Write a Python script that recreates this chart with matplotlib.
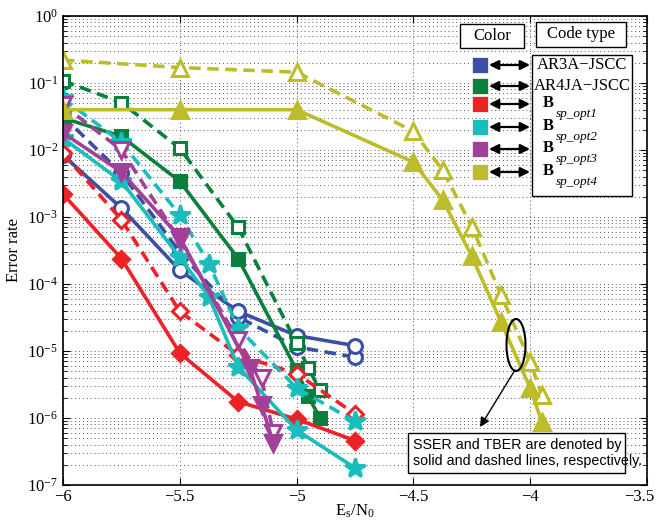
import numpy as np
import matplotlib
matplotlib.use('Agg')
import matplotlib.pyplot as plt
import matplotlib.transforms as mtransforms
from matplotlib.patches import Ellipse, Rectangle

plt.rcParams['font.family'] = ['Liberation Serif', 'DejaVu Serif']
plt.rcParams['mathtext.fontset'] = 'stix'

# ---- data ----
blue_x = [-6, -5.75, -5.5, -5.25, -5, -4.75]
blue_sser = [8.4e-3, 1.36e-3, 1.6e-4, 3.9e-5, 1.7e-5, 1.2e-5]
blue_tber = [3.2e-2, 4.5e-3, 3.0e-4, 3.2e-5, 1.15e-5, 8.1e-6]

green_x = [-6, -5.75, -5.5, -5.25, -5, -4.95, -4.9]
green_sser = [3.0e-2, 1.6e-2, 3.4e-3, 2.4e-4, 5.2e-6, 2.1e-6, 1.0e-6]
green_tber = [1.08e-1, 5.1e-2, 1.06e-2, 7.0e-4, 1.3e-5, 5.6e-6, 2.6e-6]

red_x = [-6, -5.75, -5.5, -5.25, -5, -4.75]
red_sser = [2.2e-3, 2.4e-4, 9.3e-6, 1.75e-6, 9.6e-7, 4.6e-7]
red_tber = [8.9e-3, 9.1e-4, 3.9e-5, 8.7e-6, 4.6e-6, 1.15e-6]

cyan_x = [-6, -5.75, -5.5, -5.375, -5.25, -5, -4.75]
cyan_sser = [1.5e-2, 3.4e-3, 2.5e-4, 6.4e-5, 5.8e-6, 6.6e-7, 1.8e-7]
cyan_tber = [5.9e-2, 1.3e-2, 1.07e-3, 2.0e-4, 2.2e-5, 2.8e-6, 8.9e-7]

purple_x_s = [-6, -5.75, -5.5, -5.2, -5.15, -5.1]
purple_sser = [1.8e-2, 4.7e-3, 5.0e-4, 5.5e-6, 1.55e-6, 4.3e-7]
purple_x_t = [-6, -5.75, -5.5, -5.25, -5.15, -5.1]
purple_tber = [4.7e-2, 1.0e-2, 4.5e-4, 1.45e-5, 3.9e-6, 6.0e-7]

yellow_x = [-6, -5.5, -5, -4.5, -4.375, -4.25, -4.125, -4.0, -3.95]
yellow_sser = [4.0e-2, 4.0e-2, 4.0e-2, 6.6e-3, 1.8e-3, 2.6e-4, 2.7e-5, 2.8e-6, 8.7e-7]
yellow_tber = [2.2e-1, 1.7e-1, 1.45e-1, 1.9e-2, 5.0e-3, 7.2e-4, 6.9e-5, 6.9e-6, 2.2e-6]

code_names = ['AR3A\u2212JSCC', 'AR4JA\u2212JSCC', 'sp_opt1', 'sp_opt2', 'sp_opt3', 'sp_opt4']
colors = ['#3b4fa3', '#0b7f3e', '#ec2227', '#19bdbb', '#a2409a', '#bdbd2c']
y_decades = np.arange(-7, 1)

fig = plt.figure(figsize=(6.58, 5.29), dpi=100)
ax = fig.add_axes([63/658, 1-485/529, 584/658, 469/529])

lw = 2.6
def series(x, y, c, m, ms, dashed, filled):
    ls = (0, (3.2, 1.8)) if dashed else '-'
    mfc = c if filled else 'white'
    ax.plot(x, y, linestyle=ls, color=c, lw=lw, marker=m, ms=ms,
            mfc=mfc, mec=c, mew=2.2)

series(blue_x, blue_tber, colors[0], 'o', 10, True, False)
series(blue_x, blue_sser, colors[0], 'o', 10, False, False)
series(green_x, green_tber, colors[1], 's', 9, True, False)
series(green_x, green_sser, colors[1], 's', 9, False, True)
series(red_x, red_tber, colors[2], 'D', 8, True, False)
series(red_x, red_sser, colors[2], 'D', 8, False, True)
series(cyan_x, cyan_tber, colors[3], '*', 15, True, True)
series(cyan_x, cyan_sser, colors[3], '*', 15, False, True)
series(purple_x_t, purple_tber, colors[4], 'v', 11, True, False)
series(purple_x_s, purple_sser, colors[4], 'v', 11, False, True)
series(yellow_x, yellow_tber, colors[5], '^', 11, True, False)
series(yellow_x, yellow_sser, colors[5], '^', 11, False, True)

ax.set_yscale('log')
ax.set_xlim(-6, -3.5)
ax.set_ylim(1e-7, 1)
ax.set_yticks(10.0 ** y_decades)
minor = [k * 10.0 ** d for d in y_decades[:-1] for k in range(2, 10)]
ax.set_yticks(minor, minor=True)
ax.set_yticklabels([], minor=True)
ax.set_xticks([-6, -5.5, -5, -4.5, -4, -3.5])
ax.set_xticklabels(['\u22126', '\u22125.5', '\u22125', '\u22124.5', '\u22124', '\u22123.5'])
ax.tick_params(which='both', direction='in', top=True, right=True, labelsize=12)
ax.tick_params(axis='x', pad=3)
ax.tick_params(which='major', length=5)
ax.tick_params(which='minor', length=3)
ax.grid(True, which='major', linestyle=(0, (1, 3)), color='#555555', lw=0.7)
ax.grid(True, which='minor', axis='y', linestyle=(0, (1, 3)), color='#555555', lw=0.7)
for s in ax.spines.values():
    s.set_linewidth(1.2)

# keep the last x tick label inside the figure, as in the reference
last = ax.get_xticklabels()[-1]
last.set_transform(last.get_transform() +
                   mtransforms.ScaledTranslation(-8/100, 0, fig.dpi_scale_trans))

ax.set_xlabel(r'E$_\mathregular{s}$/N$_\mathregular{0}$', fontsize=12, labelpad=-2)
ax.set_ylabel('Error rate', fontsize=12, labelpad=4)

# ---- custom legend ----
T = ax.transAxes
def px(xp, yp):
    return ((xp - 63) / 584, (485 - yp) / 469)

x0, y0 = px(460, 48)
x1, y1 = px(524, 24)
ax.add_patch(Rectangle((x0, y0), x1 - x0, y1 - y0, transform=T, fill=True,
                       fc='white', ec='black', lw=1, zorder=5))
ax.text((x0 + x1) / 2, (y0 + y1) / 2, 'Color', transform=T, ha='center',
        va='center', fontsize=12, zorder=6)
x0, y0 = px(536, 47)
x1, y1 = px(626, 22)
ax.add_patch(Rectangle((x0, y0), x1 - x0, y1 - y0, transform=T, fill=True,
                       fc='white', ec='black', lw=1, zorder=5))
ax.text((x0 + x1) / 2, (y0 + y1) / 2, 'Code type', transform=T, ha='center',
        va='center', fontsize=12, zorder=6)
x0, y0 = px(532, 196)
x1, y1 = px(632, 55)
ax.add_patch(Rectangle((x0, y0), x1 - x0, y1 - y0, transform=T, fill=True,
                       fc='white', ec='black', lw=1, zorder=5))

rows = [65, 86, 104, 127, 149, 172]
for i, yp in enumerate(rows):
    sx, sy = px(472, yp + 8)
    ax.add_patch(Rectangle((sx, sy), 16 / 584, 16 / 469, transform=T,
                           fc=colors[i], ec='white', lw=0.5, zorder=6))
    ax.annotate('', xy=px(530, yp), xytext=px(489, yp), xycoords=T,
                textcoords=T, zorder=6,
                arrowprops=dict(arrowstyle='<|-|>', color='black', lw=1.6,
                                mutation_scale=14, shrinkA=0, shrinkB=0))
    if i < 2:
        ax.text(*px(582, yp), code_names[i], transform=T, ha='center',
                va='center', fontsize=12, zorder=7)
    else:
        ax.text(*px(543, yp - 1), 'B', transform=T, ha='left', va='center',
                fontsize=12, fontweight='bold', zorder=7)
        ax.text(*px(556, yp + 10), code_names[i], transform=T, ha='left',
                va='center', fontsize=9.5, style='italic', zorder=7)

# ---- annotation ----
ax.add_patch(Ellipse(px(516, 345), 19 / 584, 52 / 469, transform=T,
                     fill=False, ec='black', lw=1.5, zorder=8))
ax.annotate('', xy=px(480, 427), xytext=px(515, 370), xycoords=T,
            textcoords=T, zorder=8,
            arrowprops=dict(arrowstyle='-|>', color='black', lw=1.0,
                            mutation_scale=14, shrinkA=0, shrinkB=0))
x0, y0 = px(408, 473)
x1, y1 = px(625, 433)
ax.add_patch(Rectangle((x0, y0), x1 - x0, y1 - y0, transform=T,
                       fc='white', ec='black', lw=1, zorder=8))
ax.text(*px(413, 453), 'SSER and TBER are denoted by\nsolid and dashed lines, respectively.',
        transform=T, ha='left', va='center', fontsize=10.3,
        family=['Liberation Sans', 'DejaVu Sans'], linespacing=1.15, zorder=9)

fig.savefig('out.png', dpi=100)
